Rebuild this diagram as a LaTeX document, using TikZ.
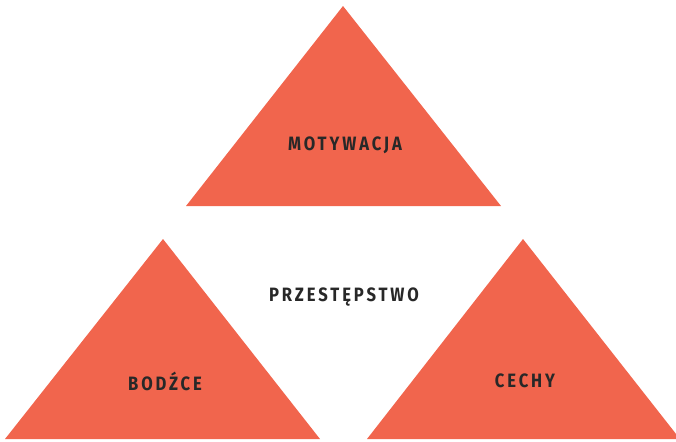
\documentclass[tikz,border=0pt]{standalone}
\usepackage{fontspec}
\setmainfont{Fira Sans}
\newfontfamily\labfont[LetterSpace=15,FakeStretch=0.86]{Fira Sans}
\usepackage{xcolor}
\usepackage{tikz}
\definecolor{koral}{RGB}{241,101,77}
\definecolor{napis}{RGB}{40,40,40}

\begin{document}
\begin{tikzpicture}[x=0.02cm,y=-0.02cm]
	\useasboundingbox (0,0) rectangle (676,441);
	\tikzset{trojkat/.style={fill=koral,draw=none},
		etykieta/.style={font=\labfont\bfseries\fontsize{11}{13}\selectfont,text=napis,inner sep=0pt}}
	
	\coordinate (Mg) at (343,6);
	\coordinate (Ml) at (186,206);
	\coordinate (Mp) at (501,206);
	\coordinate (Bg) at (163,239);
	\coordinate (Bl) at (5,439);
	\coordinate (Bp) at (320,439);
	\coordinate (Cg) at (523,239);
	\coordinate (Cl) at (367,439);
	\coordinate (Cp) at (680,439);
	
	\fill[trojkat] (Mg)--(Mp)--(Ml)--cycle;
	\fill[trojkat] (Bg)--(Bp)--(Bl)--cycle;
	\fill[trojkat] (Cg)--(Cp)--(Cl)--cycle;
	
	\node[etykieta] (mot) at (345,145) {MOTYWACJA};
	\node[etykieta] (prz) at (344,297) {PRZESTĘPSTWO};
	\node[etykieta] (bod) at (165,381) {BODŹCE};
	\node[etykieta] (cec) at (525,381) {CECHY};
\end{tikzpicture}
\end{document}
